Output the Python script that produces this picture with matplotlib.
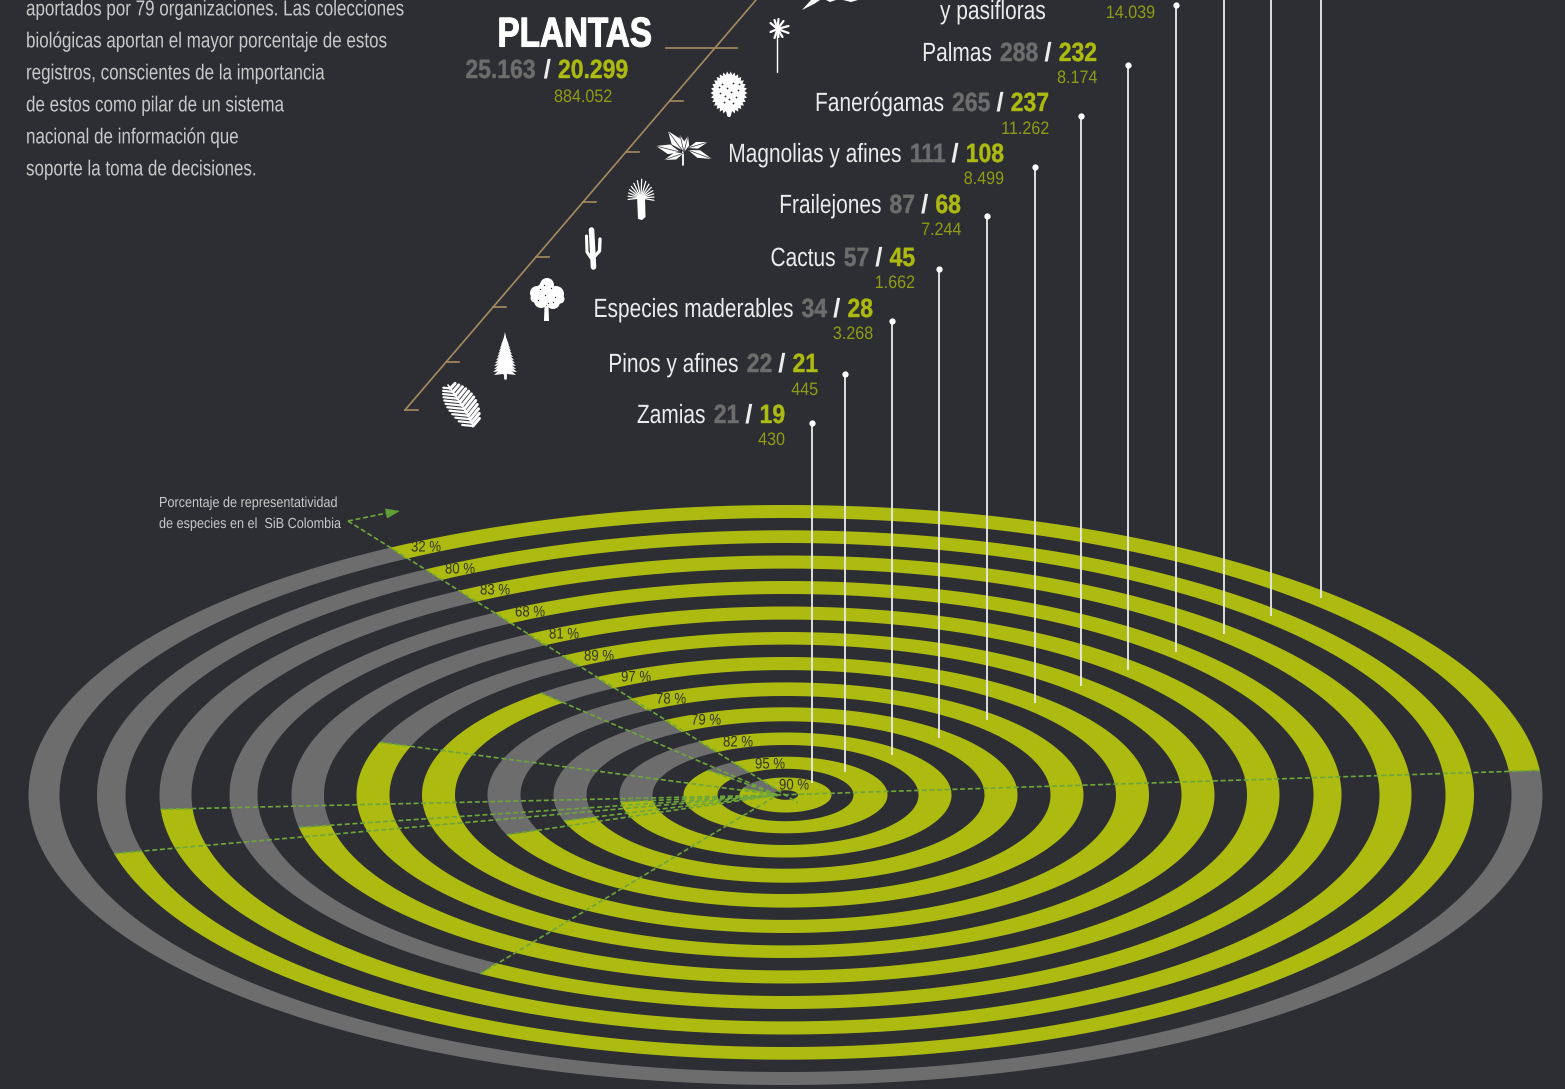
"""
Representatividad de especies de plantas en el SiB Colombia, grafico de anillos.
"""
import numpy as np
import matplotlib
matplotlib.use('Agg')
import matplotlib.pyplot as plt
from matplotlib.patches import Ellipse, Polygon
from matplotlib.patheffects import AbstractPathEffect
from matplotlib.transforms import Affine2D

# ---------------------------------------------------------------------------------
# data, inner ring last
percents = [32, 80, 83, 68, 81, 89, 97, 78, 79, 82, 95, 90]
arc_percents = [32.4, 80.2, 82.8, 68, 81, 89, 97, 78, 79, 82, 95, 90]

names = ['Zamias', 'Pinos y afines', 'Especies maderables', 'Cactus', 'Frailejones',
         'Magnolias y afines', 'Fanerógamas', 'Palmas']
totals = ['21', '22', '34', '57', '87', '111', '265', '288']
present = ['19', '21', '28', '45', '68', '108', '237', '232']
records = ['430', '445', '3.268', '1.662', '7.244', '8.499', '11.262', '8.174']

intro = ['aportados por 79 organizaciones. Las colecciones',
         'biológicas aportan el mayor porcentaje de estos',
         'registros, conscientes de la importancia',
         'de estos como pilar de un sistema',
         'nacional de información que',
         'soporte la toma de decisiones.']

# ---------------------------------------------------------------------------------
# layout, all in pixels of the 1565x1089 picture
BG = '#2d2e33'
YELLOW = '#adbb10'
OLIVE = '#8f9c14'
GRAY = '#6d6d6d'
GREEN = '#6da63c'
TAN = '#a58a5f'
WHITE = '#ececec'

CX, CY = 785.5, 795.0
START = 121.5

# semi axes of every ring edge, x and y measured apart
a_out = [757, 688.5, 626, 556, 494, 429, 363.5, 298, 232, 166, 102, 46]
a_in = [726, 660, 594, 528, 461.5, 396, 330.5, 265, 199, 133, 68, 12.5]
b_out = [290, 264.7, 239.5, 214, 188.5, 163, 138, 112.6, 87.7, 62.5, 38.3, 17.5]
b_in = [277, 252, 226.4, 201, 175.4, 150.4, 124.9, 99, 73.7, 50, 26.2, 4.8]

pct_xy = [(426, 546), (460, 568), (495, 589), (530, 611), (564, 633), (599, 655),
          (636, 676), (671, 698), (706, 719), (738, 741), (770, 763), (794, 784)]

lead_x = [812, 845, 892, 939, 987, 1035, 1081, 1128, 1176, 1224, 1271, 1321]
lead_top = [423, 374, 321, 269, 216, 167, 116, 65, 5, -5, -5, -5]
lead_bot = [783, 772, 755, 738, 720, 703, 686, 670, 652, 634, 616, 598]

label_right = [785, 818, 873, 915, 961, 1004, 1049, 1097]
label_base = [423, 372, 317, 266, 213, 162, 111, 61]
small_base = [445, 395, 339, 288, 235, 184, 134, 83]

tick_y = [410, 362, 307, 257, 202, 152, 101]

plt.rcParams['font.family'] = ['Liberation Sans', 'DejaVu Sans']

fig = plt.figure(figsize=(15.65, 10.89), dpi=100, facecolor=BG)
ax = fig.add_axes([0, 0, 1, 1])
ax.set_xlim(0, 1565)
ax.set_ylim(1089, 0)
ax.axis('off')
renderer = fig.canvas.get_renderer()


class Squeeze(AbstractPathEffect):
    # no condensed face is installed, so narrow the glyphs around the text anchor
    def __init__(self, sx, x0, heavy=0.0):
        super().__init__()
        self.sx = sx
        self.x0 = x0
        self.heavy = heavy

    def draw_path(self, rend, gc, tpath, affine, rgbFace=None):
        squeeze = Affine2D().translate(-self.x0, 0).scale(self.sx, 1).translate(self.x0, 0)
        gc0 = rend.new_gc()
        gc0.copy_properties(gc)
        if self.heavy > 0:
            gc0.set_linewidth(self.heavy)
            gc0.set_foreground(rgbFace)
        rend.draw_path(gc0, tpath, affine + squeeze, rgbFace)
        gc0.restore()


def natural_width(s, size, weight='normal'):
    t = ax.text(0, 0, s, fontsize=size, fontweight=weight)
    w = t.get_window_extent(renderer).width
    t.remove()
    return w


def txt(x, y, s, sx, heavy=0.0, **kw):
    t = ax.text(x, y, s, va='baseline', zorder=8, **kw)
    t.set_path_effects([Squeeze(sx, x, heavy)])
    return t


# squeeze factors from widths measured in the reference
SX_LABEL = 200.0 / natural_width('Especies maderables', 19)
SX_BOLD = 70.0 / natural_width('20.299', 19, 'bold')
SX_SMALL = 58.0 / natural_width('884.052', 13)
SX_BODY = 360.0 / natural_width(intro[1], 15.6)
SX_NOTE = 180.0 / natural_width('Porcentaje de representatividad', 10.5)
SX_TITLE = 154.0 / natural_width('PLANTAS', 30, 'bold')
SX_PCT = 30.0 / natural_width('32 %', 11)


def ring_xy(a, b, deg):
    t = np.radians(deg)
    return CX + a * np.cos(t), CY - b * np.sin(t)


def arc(i, deg0, deg1, color, z):
    t = np.linspace(deg0, deg1, 400)
    xo, yo = ring_xy(a_out[i], b_out[i], t)
    xi, yi = ring_xy(a_in[i], b_in[i], t[::-1])
    ax.fill(np.r_[xo, xi], np.r_[yo, yi], color=color, lw=0, zorder=z)


def right_runs(x, y, runs, size):
    # runs are (text, colour, weight, squeeze, gap to the next run on the right)
    # the last run hangs from its left edge so its box stays clear of the slash
    for (k, (s, c, w, sx, gap)) in enumerate(reversed(runs)):
        x -= gap
        heavy = 0.3 if (w == 'bold' and sx < 1.0) else 0.0
        if k == 0:
            x -= natural_width(s, size, w) * sx
            txt(x, y, s, sx, heavy, color=c, fontweight=w, fontsize=size, ha='left')
        else:
            t = txt(x, y, s, sx, heavy, color=c, fontweight=w, fontsize=size, ha='right')
            x -= t.get_window_extent(renderer).width * sx


# ---------------------------------------------------------------------------------
# rings
ends = list()
for i in range(len(percents)):
    end = START - arc_percents[i] * 3.6
    ends.append(end)
    arc(i, end, START - 360.0, GRAY, 2)
    arc(i, START, end, YELLOW, 2)

# dashed rays to the centre
dash = (0, (3, 1.6))
for i in range(len(percents)):
    ex, ey = ring_xy(a_out[i], b_out[i], ends[i])
    ax.plot([ex, CX - 8], [ey, CY], color=GREEN, lw=1.2, ls=dash, zorder=3)
ax.plot([348, 798], [521, 803], color=GREEN, lw=1.2, ls=dash, zorder=3)
ax.plot([348, 387], [521, 513], color=GREEN, lw=1.2, ls=dash, zorder=3)
ax.add_patch(Polygon([(385, 508.5), (400, 511), (387, 518.5)], fc='#5f9e35', ec='none', zorder=3))

for (p, xy) in zip(percents, pct_xy):
    txt(xy[0], xy[1] + 5.5, '%d %%' % p, SX_PCT, color='#33341f', fontsize=11, ha='center')

# white leaders
for (x, t, b) in zip(lead_x, lead_top, lead_bot):
    ax.plot([x, x], [t, b], color=WHITE, lw=1.3, solid_capstyle='butt', zorder=5)
    if t > 0:
        ax.plot([x], [t], 'o', color='white', ms=4.5, mew=0, zorder=5)

# ---------------------------------------------------------------------------------
# labels
for i in range(len(names)):
    right_runs(label_right[i], label_base[i],
               [(names[i], WHITE, 'normal', SX_LABEL, 8), (totals[i], GRAY, 'bold', SX_BOLD, 6),
                ('/', WHITE, 'bold', 1.0, 7), (present[i], YELLOW, 'bold', SX_BOLD, 0)], 19)
    txt(label_right[i], small_base[i], records[i], SX_SMALL, color=OLIVE, fontsize=13, ha='right')

txt(1046, 19, 'y pasifloras', SX_LABEL, color=WHITE, fontsize=19, ha='right')
txt(1155, 18, '14.039', SX_SMALL, color=OLIVE, fontsize=13, ha='right')

txt(651.5, 46.5, 'PLANTAS', SX_TITLE, 0.8, color='white', fontsize=30, fontweight='bold', ha='right')
right_runs(628, 78, [('25.163', GRAY, 'bold', SX_BOLD, 8), ('/', WHITE, 'bold', 1.0, 7),
                     ('20.299', YELLOW, 'bold', SX_BOLD, 0)], 19)
txt(612, 102, '884.052', SX_SMALL, color=OLIVE, fontsize=13, ha='right')

for (k, s) in enumerate(intro):
    txt(26, 15.4 + 32 * k, s, SX_BODY, color='#c9c9c9', fontsize=15.6, ha='left')

txt(159, 507, 'Porcentaje de representatividad', SX_NOTE, color='#c9c9c9', fontsize=10.5, ha='left')
txt(159, 528, 'de especies en el  SiB Colombia', SX_NOTE, color='#c9c9c9', fontsize=10.5, ha='left')

# ---------------------------------------------------------------------------------
# tan axis
ax.plot([405, 756], [410, 0], color=TAN, lw=1.2, zorder=2)
for y in tick_y:
    x0 = 405 + (410 - y) * 351.0 / 410.0
    ax.plot([x0, x0 + 13], [y, y], color=TAN, lw=1.2, zorder=2)
ax.plot([666, 737], [47.7, 47.7], color=TAN, lw=1.2, zorder=2)


# ---------------------------------------------------------------------------------
# plant silhouettes
def spiky(cx, cy, rx, ry, n, amp, deg0=0, deg1=360):
    t = np.radians(np.linspace(deg0, deg1, 2 * n + 1))
    s = 1 + amp * np.where(np.arange(2 * n + 1) % 2 == 0, 1, -1)
    return np.c_[cx + rx * s * np.cos(t), cy - ry * s * np.sin(t)]


def blob(xy):
    ax.add_patch(Polygon(xy, fc='white', ec='none', zorder=4))


def stroke(x, y, lw=1.0):
    ax.plot(x, y, color='white', lw=lw, solid_capstyle='round', zorder=4)


def specks(xs, ys, size=1.5):
    ax.plot(xs, ys, 'o', color=BG, ms=size, mew=0, zorder=4.5)


def leaf(x0, y0, x1, y1, w):
    dx, dy = x1 - x0, y1 - y0
    nx, ny = -dy, dx
    n = np.hypot(nx, ny)
    nx, ny = nx / n * w, ny / n * w
    mx, my = x0 + dx * 0.45, y0 + dy * 0.45
    blob([(x0, y0), (mx + nx, my + ny), (x1, y1), (mx - nx, my - ny)])
    ax.plot([x0, x1], [y0, y1], color=BG, lw=0.5, zorder=4.5)


# fern
t = np.linspace(0, 1, 13)
rx = 473 - 25 * t ** 1.2
ry = 426 - 41 * t
stroke(rx, ry, 1.2)
for k in range(len(t) - 1):
    ln = 15 * np.sin(np.pi * (0.2 + 0.75 * t[k])) + 2
    stroke([rx[k], rx[k] - ln], [ry[k], ry[k] - ln * 0.1], 1.6)
    stroke([rx[k], rx[k] + ln * 0.5 + 1], [ry[k], ry[k] - ln * 0.7], 2.2)

# pine
for (yy, w) in zip(range(337, 371, 3), [2, 4, 5, 6, 7, 8, 9, 10, 11, 11, 12, 11]):
    blob([(505, yy - 5), (505 - w, yy + 5), (505 - 2, yy + 4), (505, yy + 6), (505 + 2, yy + 4), (505 + w, yy + 5)])
stroke([505, 505], [365, 378], 2.0)

# tree
for (x, y, r) in [(546, 292, 10), (537, 293, 7), (556, 294, 8), (541, 301, 7), (553, 302, 7),
                  (547, 285, 7), (535, 298, 4.5), (560, 299, 4.5)]:
    ax.add_patch(Ellipse((x, y), 2 * r, 2 * r, fc='white', ec='none', zorder=4))
specks([540, 545, 551, 555, 538, 548, 544, 553], [289, 295, 288, 297, 300, 303, 285, 302], 1.0)
blob([(544.5, 306), (548.5, 306), (549, 321), (544, 321)])

# cactus
stroke([591.5, 593.5], [230, 267], 4.0)
stroke([586.5, 587, 591], [236, 252, 258], 2.2)
stroke([600, 599.5, 594], [239, 251, 257], 2.4)

# frailejon
blob([(637, 196), (645, 196), (645.5, 217), (642, 220), (638, 219)])
for ang in np.arange(-10, 195, 14):
    ln = 19 - 6 * abs(np.cos(np.radians(ang)))
    stroke([641, 641 + ln * np.cos(np.radians(ang))], [198, 198 - ln * np.sin(np.radians(ang))], 0.9)

# magnolia
leaf(682, 150, 668, 131, 5)
leaf(680, 152, 656, 146, 5)
leaf(684, 153, 664, 160, 3.5)
leaf(688, 150, 712, 159, 4)
leaf(688, 148, 708, 142, 3.5)
leaf(684, 152, 680, 135, 3.5)
leaf(684, 152, 688, 136, 3.5)
stroke([683, 683], [152, 165], 1.3)

# bush
blob(spiky(729, 93, 17, 20, 30, 0.08))
stroke([729, 729], [108, 115], 3.0)
specks([722, 727, 733, 738, 720, 725, 731, 736, 724, 733, 729, 739, 719],
       [84, 88, 83, 90, 93, 96, 92, 97, 102, 103, 99, 84, 87], 1.3)

# palm
stroke([777, 777], [30, 72], 1.0)
for (dx, dy) in [(-7, -6), (-7, 3), (-3, 9), (1, 8), (5, 8), (11, 4), (11, -3), (6, -8), (1, -10), (-3, -9)]:
    stroke([777.5, 777.5 + dx], [29, 29 + dy], 1.6)

# plant cut at the top edge
blob([(802, 10), (811, 0), (820, 0), (814, 4)])
blob([(826, 0), (836, 0), (830, 2)])
blob([(843, 0), (858, 0), (851, 2)])

fig.savefig('out.png', dpi=100, facecolor=BG)
plt.close(fig)
